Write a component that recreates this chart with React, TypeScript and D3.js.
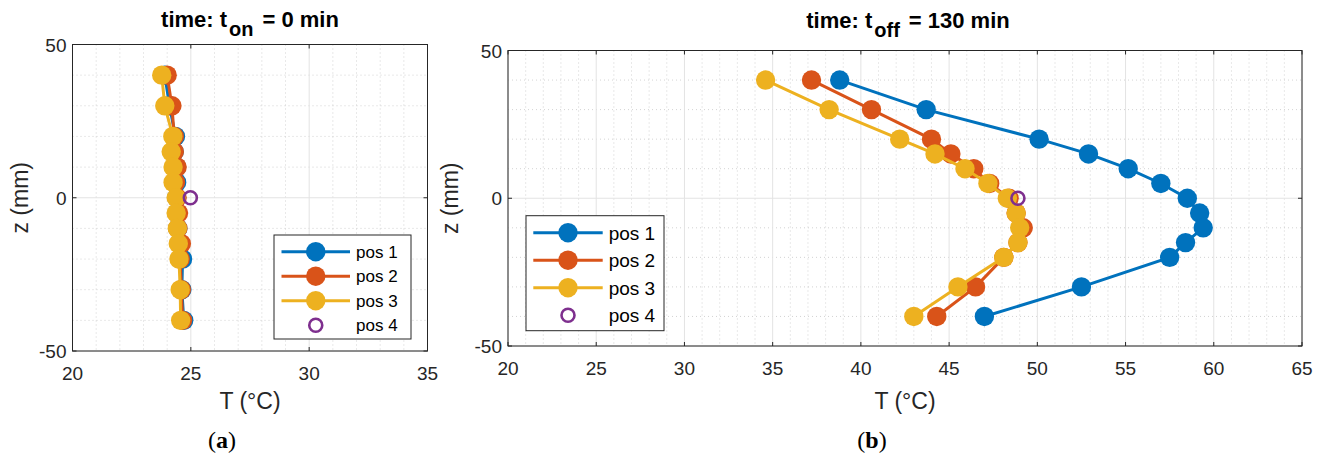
import React from "react";
import * as d3 from "d3";

const zLevels = [40, 30, 20, 15, 10, 5, 0, -5, -10, -15, -20, -30, -40];

// Panel (a): t_on = 0 min
const onPos1 = [23.9, 24.1, 24.35, 24.3, 24.4, 24.4, 24.4, 24.42, 24.45, 24.55, 24.65, 24.62, 24.7];
const onPos2 = [24.0, 24.2, 24.3, 24.3, 24.42, 24.35, 24.42, 24.48, 24.45, 24.6, 24.55, 24.6, 24.65];
const onPos3 = [23.77, 23.9, 24.24, 24.17, 24.25, 24.25, 24.38, 24.38, 24.43, 24.47, 24.5, 24.55, 24.57];
const onPos4 = [{ z: 0, t: 24.98 }];

// Panel (b): t_off = 130 min
const offPos1 = [38.8, 43.7, 50.1, 52.9, 55.15, 57.0, 58.5, 59.2, 59.4, 58.4, 57.5, 52.5, 47.0];
const offPos2 = [37.2, 40.6, 44.0, 45.1, 46.4, 47.3, 48.4, 48.8, 49.2, 48.9, 48.1, 46.5, 44.3];
const offPos3 = [34.6, 38.2, 42.2, 44.2, 45.9, 47.2, 48.3, 48.8, 49.0, 48.9, 48.1, 45.5, 43.0];
const offPos4 = [{ z: 0, t: 48.9 }];

const seriesNames = ["pos 1", "pos 2", "pos 3", "pos 4"];
const colors = ["#0072BD", "#D95319", "#EDB120", "#7E2F8E"];

const xTicksA = [20, 25, 30, 35];
const xTicksB = [20, 25, 30, 35, 40, 45, 50, 55, 60, 65];
const yTicks = [-50, 0, 50];

const FONT = "'Liberation Sans', Arial, Helvetica, sans-serif";
const AXC = "#262626";

type PanelProps = {
  left: number; right: number; top: number; bottom: number;
  xDomain: [number, number]; xTicks: number[];
  lines: number[][]; open: { z: number; t: number }[];
  legend: { x: number; y: number; w: number; h: number; row0: number; dy: number; l0: number; l1: number; fs: number };
  title: React.ReactNode; caption: string; captionX: number; yLabelX: number;
};

function Panel(p: PanelProps) {
  const x = d3.scaleLinear().domain(p.xDomain).range([p.left, p.right]);
  const y = d3.scaleLinear().domain([-50, 50]).range([p.bottom, p.top]);
  const xMinor = d3.range(p.xDomain[0], p.xDomain[1] + 0.001, 1).filter((v) => v % 5 !== 0);
  const yMinor = d3.range(-50, 50.001, 10).filter((v) => v % 50 !== 0);
  const yMajor = [-50, 0, 50];
  const line = d3.line<number>().x((t) => x(t)).y((_, i) => y(zLevels[i]));
  const cx = (p.left + p.right) / 2;
  const tl = 4;
  const L = p.legend;
  return (
    <g>
      <rect x={p.left} y={p.top} width={p.right - p.left} height={p.bottom - p.top} fill="#fff" />
      {xMinor.map((v) => (
        <line key={"xm" + v} x1={x(v)} x2={x(v)} y1={p.top} y2={p.bottom} stroke="#c8c8c8" strokeWidth={0.8} strokeDasharray="1,3" />
      ))}
      {yMinor.map((v) => (
        <line key={"ym" + v} x1={p.left} x2={p.right} y1={y(v)} y2={y(v)} stroke="#c8c8c8" strokeWidth={0.8} strokeDasharray="1,3" />
      ))}
      {p.xTicks.map((v) => (
        <line key={"xg" + v} x1={x(v)} x2={x(v)} y1={p.top} y2={p.bottom} stroke="#e3e3e3" strokeWidth={1} />
      ))}
      {yMajor.map((v) => (
        <line key={"yg" + v} x1={p.left} x2={p.right} y1={y(v)} y2={y(v)} stroke="#e3e3e3" strokeWidth={1} />
      ))}
      {p.xTicks.map((v) => (
        <g key={"xt" + v}>
          <line x1={x(v)} x2={x(v)} y1={p.bottom} y2={p.bottom - tl} stroke={AXC} />
          <line x1={x(v)} x2={x(v)} y1={p.top} y2={p.top + tl} stroke={AXC} />
          <text x={x(v)} y={p.bottom + 29} textAnchor="middle" fontFamily={FONT} fontSize={19} fill={AXC}>{v}</text>
        </g>
      ))}
      {yTicks.map((v) => (
        <g key={"yt" + v}>
          <line x1={p.left} x2={p.left + tl} y1={y(v)} y2={y(v)} stroke={AXC} />
          <line x1={p.right} x2={p.right - tl} y1={y(v)} y2={y(v)} stroke={AXC} />
          <text x={p.left - 6} y={y(v) + 7} textAnchor="end" fontFamily={FONT} fontSize={19} fill={AXC}>{v}</text>
        </g>
      ))}
      {p.lines.map((vals, si) => (
        <g key={"s" + si}>
          <path d={line(vals) || ""} fill="none" stroke={colors[si]} strokeWidth={3} />
          {vals.map((t, i) => (
            <circle key={i} cx={x(t)} cy={y(zLevels[i])} r={9.7} fill={colors[si]} />
          ))}
        </g>
      ))}
      {p.open.map((d, i) => (
        <circle key={"o" + i} cx={x(d.t)} cy={y(d.z)} r={6.5} fill="none" stroke={colors[3]} strokeWidth={2.6} />
      ))}
      <rect x={p.left} y={p.top} width={p.right - p.left} height={p.bottom - p.top} fill="none" stroke={AXC} strokeWidth={1} />
      <rect x={L.x} y={L.y} width={L.w} height={L.h} fill="#fff" stroke={AXC} strokeWidth={1} />
      {seriesNames.map((n, i) => {
        const ry = L.row0 + i * L.dy;
        const mx = (L.l0 + L.l1) / 2;
        return (
          <g key={"lg" + i}>
            {i < 3 ? (
              <>
                <line x1={L.l0} x2={L.l1} y1={ry} y2={ry} stroke={colors[i]} strokeWidth={3} />
                <circle cx={mx} cy={ry} r={9.7} fill={colors[i]} />
              </>
            ) : (
              <circle cx={mx} cy={ry} r={6.5} fill="none" stroke={colors[3]} strokeWidth={2.6} />
            )}
            <text x={L.l1 + 6} y={ry + L.fs * 0.36} fontFamily={FONT} fontSize={L.fs} fill="#000">{n}</text>
          </g>
        );
      })}
      <text x={cx} y={409} textAnchor="middle" fontFamily={FONT} fontSize={23} fill={AXC}>T (°C)</text>
      <text transform={`translate(${p.yLabelX},${(p.top + p.bottom) / 2}) rotate(-90)`} textAnchor="middle" fontFamily={FONT} fontSize={23} fill={AXC}>z (mm)</text>
      {p.title}
      <text x={p.captionX} y={448} textAnchor="middle" fontFamily="'Liberation Serif', 'DejaVu Serif', serif" fontSize={24} fill="#000">
        (<tspan fontWeight="bold">{p.caption}</tspan>)
      </text>
    </g>
  );
}

function Title({ x, y, sub, rest }: { x: number; y: number; sub: string; rest: string }) {
  return (
    <text x={x} y={y} textAnchor="middle" fontFamily={FONT} fontSize={22} fontWeight="bold" fill="#000">
      time: t<tspan fontSize={20} dx={2} dy={9}>{sub}</tspan><tspan dx={9} dy={-9}>{"= " + rest}</tspan>
    </text>
  );
}

export default function App() {
  return (
    <svg width={1327} height={459} style={{ position: "absolute", left: 0, top: 0, background: "#fff" }}>
      <rect width={1327} height={459} fill="#fff" />
      <Panel
        left={72.5} right={427.5} top={44.5} bottom={351}
        xDomain={[20, 35]} xTicks={xTicksA}
        lines={[onPos1, onPos2, onPos3]} open={onPos4}
        legend={{ x: 274, y: 235, w: 137, h: 104, row0: 251.7, dy: 24.5, l0: 281.5, l1: 350, fs: 17 }}
        title={<Title x={250} y={27} sub="on" rest="0 min" />}
        caption="a" captionX={222} yLabelX={28}
      />
      <Panel
        left={508} right={1302} top={50.5} bottom={346}
        xDomain={[20, 65]} xTicks={xTicksB}
        lines={[offPos1, offPos2, offPos3]} open={offPos4}
        legend={{ x: 526, y: 215.7, w: 138, h: 115, row0: 232.7, dy: 27.5, l0: 533.3, l1: 602.7, fs: 19 }}
        title={<Title x={908} y={28} sub="off" rest="130 min" />}
        caption="b" captionX={872} yLabelX={458}
      />
    </svg>
  );
}
